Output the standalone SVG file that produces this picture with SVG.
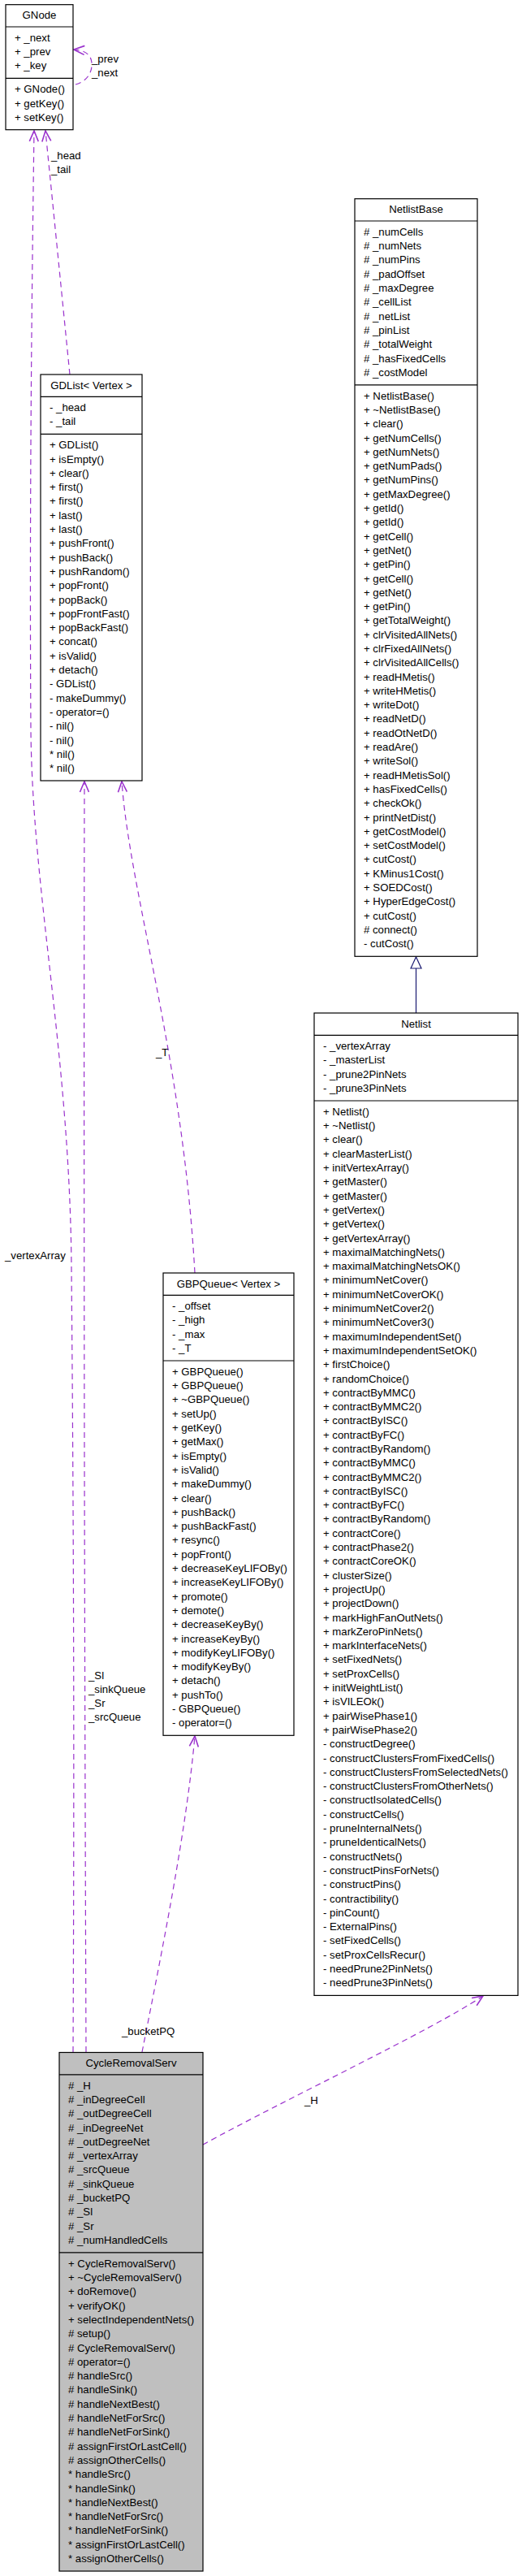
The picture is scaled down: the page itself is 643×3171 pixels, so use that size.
<svg xmlns="http://www.w3.org/2000/svg" width="643" height="3171" viewBox="0 0 643 3171">
<style>
.t{font-family:"Liberation Sans",Arial,sans-serif;font-size:13.2px;fill:#000}
.c{text-anchor:middle}
.b{fill:#fff;stroke:#000;stroke-width:1.2}
.g{fill:#bfbfbf;stroke:#000;stroke-width:1.2}
.d{stroke:#000;stroke-width:1.2}
.e{fill:none;stroke:#9a32cd;stroke-width:1.2;stroke-dasharray:7,5}
.i{fill:none;stroke:#191970;stroke-width:1.2}
</style>
<defs>
<marker id="a" markerWidth="15" markerHeight="13" refX="14" refY="6.5" orient="auto" markerUnits="userSpaceOnUse"><path d="M1,1 L14,6.5 L1,12" fill="none" stroke="#9a32cd" stroke-width="1.6"/></marker>
<marker id="h" markerWidth="16" markerHeight="16" refX="15" refY="7.5" orient="auto" markerUnits="userSpaceOnUse"><path d="M1,1 L15,7.5 L1,14 Z" fill="#fff" stroke="#191970" stroke-width="1.2"/></marker>
</defs>

<g id="edges">
<path class="e" d="M93,104 C108,100 114,88 113,77 C112,68 106,62 91,61" marker-end="url(#a)"/>
<text class="t" x="113" y="77">_prev</text>
<text class="t" x="113" y="94">_next</text>
<path class="e" d="M86,461 L56,161" marker-end="url(#a)"/>
<text class="t" x="63" y="196">_head</text>
<text class="t" x="63" y="213">_tail</text>
<path class="e" d="M90,2526 C92,2100 90,1800 88,1560 C86,1300 40,1100 38,900 C36,600 40,300 42,161" marker-end="url(#a)"/>
<text class="t" x="6" y="1550">_vertexArray</text>
<path class="e" d="M106,2526 C104,2000 103,1400 104,962" marker-end="url(#a)"/>
<text class="t" x="109" y="2067">_Sl</text>
<text class="t" x="109" y="2084">_sinkQueue</text>
<text class="t" x="109" y="2101">_Sr</text>
<text class="t" x="109" y="2118">_srcQueue</text>
<path class="e" d="M240,1567 C225,1300 160,1100 150,962" marker-end="url(#a)"/>
<text class="t" x="192" y="1300">_T</text>
<path class="e" d="M175,2526 C200,2400 230,2250 240,2137" marker-end="url(#a)"/>
<text class="t" x="150" y="2505">_bucketPQ</text>
<path class="e" d="M250,2640 C350,2585 530,2500 595,2457" marker-end="url(#a)"/>
<text class="t" x="375" y="2590">_H</text>
<path class="i" d="M512.5,1247 L512.5,1178" marker-end="url(#h)"/>
</g>

<g id="GNode">
<rect class="b" x="7" y="5.7" width="83" height="154"/>
<line class="d" x1="7" y1="33" x2="90" y2="33"/>
<line class="d" x1="7" y1="96.4" x2="90" y2="96.4"/>
<text class="t c" x="48.5" y="23.2">GNode</text>
<text class="t" x="18" y="50.8"><tspan x="18">+ _next</tspan><tspan x="18" dy="17.3">+ _prev</tspan><tspan x="18" dy="17.3">+ _key</tspan></text>
<text class="t" x="18" y="114.2"><tspan x="18">+ GNode()</tspan><tspan x="18" dy="17.3">+ getKey()</tspan><tspan x="18" dy="17.3">+ setKey()</tspan></text>
</g>

<g id="GDList">
<rect class="b" x="50" y="461" width="125" height="500"/>
<line class="d" x1="50" y1="488.3" x2="175" y2="488.3"/>
<line class="d" x1="50" y1="534.4" x2="175" y2="534.4"/>
<text class="t c" x="112.5" y="478.5">GDList&lt; Vertex &gt;</text>
<text class="t" x="61" y="506.1"><tspan x="61">- _head</tspan><tspan x="61" dy="17.3">- _tail</tspan></text>
<text class="t" x="61" y="552.2"><tspan x="61">+ GDList()</tspan><tspan x="61" dy="17.3">+ isEmpty()</tspan><tspan x="61" dy="17.3">+ clear()</tspan><tspan x="61" dy="17.3">+ first()</tspan><tspan x="61" dy="17.3">+ first()</tspan><tspan x="61" dy="17.3">+ last()</tspan><tspan x="61" dy="17.3">+ last()</tspan><tspan x="61" dy="17.3">+ pushFront()</tspan><tspan x="61" dy="17.3">+ pushBack()</tspan><tspan x="61" dy="17.3">+ pushRandom()</tspan><tspan x="61" dy="17.3">+ popFront()</tspan><tspan x="61" dy="17.3">+ popBack()</tspan><tspan x="61" dy="17.3">+ popFrontFast()</tspan><tspan x="61" dy="17.3">+ popBackFast()</tspan><tspan x="61" dy="17.3">+ concat()</tspan><tspan x="61" dy="17.3">+ isValid()</tspan><tspan x="61" dy="17.3">+ detach()</tspan><tspan x="61" dy="17.3">- GDList()</tspan><tspan x="61" dy="17.3">- makeDummy()</tspan><tspan x="61" dy="17.3">- operator=()</tspan><tspan x="61" dy="17.3">- nil()</tspan><tspan x="61" dy="17.3">- nil()</tspan><tspan x="61" dy="17.3">* nil()</tspan><tspan x="61" dy="17.3">* nil()</tspan></text>
</g>

<g id="NetlistBase">
<rect class="b" x="437" y="244.7" width="151" height="932.6"/>
<line class="d" x1="437" y1="272" x2="588" y2="272"/>
<line class="d" x1="437" y1="473.8" x2="588" y2="473.8"/>
<text class="t c" x="512.5" y="262.2">NetlistBase</text>
<text class="t" x="448" y="289.8"><tspan x="448"># _numCells</tspan><tspan x="448" dy="17.3"># _numNets</tspan><tspan x="448" dy="17.3"># _numPins</tspan><tspan x="448" dy="17.3"># _padOffset</tspan><tspan x="448" dy="17.3"># _maxDegree</tspan><tspan x="448" dy="17.3"># _cellList</tspan><tspan x="448" dy="17.3"># _netList</tspan><tspan x="448" dy="17.3"># _pinList</tspan><tspan x="448" dy="17.3"># _totalWeight</tspan><tspan x="448" dy="17.3"># _hasFixedCells</tspan><tspan x="448" dy="17.3"># _costModel</tspan></text>
<text class="t" x="448" y="491.6"><tspan x="448">+ NetlistBase()</tspan><tspan x="448" dy="17.3">+ ~NetlistBase()</tspan><tspan x="448" dy="17.3">+ clear()</tspan><tspan x="448" dy="17.3">+ getNumCells()</tspan><tspan x="448" dy="17.3">+ getNumNets()</tspan><tspan x="448" dy="17.3">+ getNumPads()</tspan><tspan x="448" dy="17.3">+ getNumPins()</tspan><tspan x="448" dy="17.3">+ getMaxDegree()</tspan><tspan x="448" dy="17.3">+ getId()</tspan><tspan x="448" dy="17.3">+ getId()</tspan><tspan x="448" dy="17.3">+ getCell()</tspan><tspan x="448" dy="17.3">+ getNet()</tspan><tspan x="448" dy="17.3">+ getPin()</tspan><tspan x="448" dy="17.3">+ getCell()</tspan><tspan x="448" dy="17.3">+ getNet()</tspan><tspan x="448" dy="17.3">+ getPin()</tspan><tspan x="448" dy="17.3">+ getTotalWeight()</tspan><tspan x="448" dy="17.3">+ clrVisitedAllNets()</tspan><tspan x="448" dy="17.3">+ clrFixedAllNets()</tspan><tspan x="448" dy="17.3">+ clrVisitedAllCells()</tspan><tspan x="448" dy="17.3">+ readHMetis()</tspan><tspan x="448" dy="17.3">+ writeHMetis()</tspan><tspan x="448" dy="17.3">+ writeDot()</tspan><tspan x="448" dy="17.3">+ readNetD()</tspan><tspan x="448" dy="17.3">+ readOtNetD()</tspan><tspan x="448" dy="17.3">+ readAre()</tspan><tspan x="448" dy="17.3">+ writeSol()</tspan><tspan x="448" dy="17.3">+ readHMetisSol()</tspan><tspan x="448" dy="17.3">+ hasFixedCells()</tspan><tspan x="448" dy="17.3">+ checkOk()</tspan><tspan x="448" dy="17.3">+ printNetDist()</tspan><tspan x="448" dy="17.3">+ getCostModel()</tspan><tspan x="448" dy="17.3">+ setCostModel()</tspan><tspan x="448" dy="17.3">+ cutCost()</tspan><tspan x="448" dy="17.3">+ KMinus1Cost()</tspan><tspan x="448" dy="17.3">+ SOEDCost()</tspan><tspan x="448" dy="17.3">+ HyperEdgeCost()</tspan><tspan x="448" dy="17.3">+ cutCost()</tspan><tspan x="448" dy="17.3"># connect()</tspan><tspan x="448" dy="17.3">- cutCost()</tspan></text>
</g>

<g id="Netlist">
<rect class="b" x="387" y="1247" width="251" height="1209.4"/>
<line class="d" x1="387" y1="1274.3" x2="638" y2="1274.3"/>
<line class="d" x1="387" y1="1355" x2="638" y2="1355"/>
<text class="t c" x="512.5" y="1264.5">Netlist</text>
<text class="t" x="398" y="1292.1"><tspan x="398">- _vertexArray</tspan><tspan x="398" dy="17.3">- _masterList</tspan><tspan x="398" dy="17.3">- _prune2PinNets</tspan><tspan x="398" dy="17.3">- _prune3PinNets</tspan></text>
<text class="t" x="398" y="1372.8"><tspan x="398">+ Netlist()</tspan><tspan x="398" dy="17.3">+ ~Netlist()</tspan><tspan x="398" dy="17.3">+ clear()</tspan><tspan x="398" dy="17.3">+ clearMasterList()</tspan><tspan x="398" dy="17.3">+ initVertexArray()</tspan><tspan x="398" dy="17.3">+ getMaster()</tspan><tspan x="398" dy="17.3">+ getMaster()</tspan><tspan x="398" dy="17.3">+ getVertex()</tspan><tspan x="398" dy="17.3">+ getVertex()</tspan><tspan x="398" dy="17.3">+ getVertexArray()</tspan><tspan x="398" dy="17.3">+ maximalMatchingNets()</tspan><tspan x="398" dy="17.3">+ maximalMatchingNetsOK()</tspan><tspan x="398" dy="17.3">+ minimumNetCover()</tspan><tspan x="398" dy="17.3">+ minimumNetCoverOK()</tspan><tspan x="398" dy="17.3">+ minimumNetCover2()</tspan><tspan x="398" dy="17.3">+ minimumNetCover3()</tspan><tspan x="398" dy="17.3">+ maximumIndependentSet()</tspan><tspan x="398" dy="17.3">+ maximumIndependentSetOK()</tspan><tspan x="398" dy="17.3">+ firstChoice()</tspan><tspan x="398" dy="17.3">+ randomChoice()</tspan><tspan x="398" dy="17.3">+ contractByMMC()</tspan><tspan x="398" dy="17.3">+ contractByMMC2()</tspan><tspan x="398" dy="17.3">+ contractByISC()</tspan><tspan x="398" dy="17.3">+ contractByFC()</tspan><tspan x="398" dy="17.3">+ contractByRandom()</tspan><tspan x="398" dy="17.3">+ contractByMMC()</tspan><tspan x="398" dy="17.3">+ contractByMMC2()</tspan><tspan x="398" dy="17.3">+ contractByISC()</tspan><tspan x="398" dy="17.3">+ contractByFC()</tspan><tspan x="398" dy="17.3">+ contractByRandom()</tspan><tspan x="398" dy="17.3">+ contractCore()</tspan><tspan x="398" dy="17.3">+ contractPhase2()</tspan><tspan x="398" dy="17.3">+ contractCoreOK()</tspan><tspan x="398" dy="17.3">+ clusterSize()</tspan><tspan x="398" dy="17.3">+ projectUp()</tspan><tspan x="398" dy="17.3">+ projectDown()</tspan><tspan x="398" dy="17.3">+ markHighFanOutNets()</tspan><tspan x="398" dy="17.3">+ markZeroPinNets()</tspan><tspan x="398" dy="17.3">+ markInterfaceNets()</tspan><tspan x="398" dy="17.3">+ setFixedNets()</tspan><tspan x="398" dy="17.3">+ setProxCells()</tspan><tspan x="398" dy="17.3">+ initWeightList()</tspan><tspan x="398" dy="17.3">+ isVILEOk()</tspan><tspan x="398" dy="17.3">+ pairWisePhase1()</tspan><tspan x="398" dy="17.3">+ pairWisePhase2()</tspan><tspan x="398" dy="17.3">- constructDegree()</tspan><tspan x="398" dy="17.3">- constructClustersFromFixedCells()</tspan><tspan x="398" dy="17.3">- constructClustersFromSelectedNets()</tspan><tspan x="398" dy="17.3">- constructClustersFromOtherNets()</tspan><tspan x="398" dy="17.3">- constructIsolatedCells()</tspan><tspan x="398" dy="17.3">- constructCells()</tspan><tspan x="398" dy="17.3">- pruneInternalNets()</tspan><tspan x="398" dy="17.3">- pruneIdenticalNets()</tspan><tspan x="398" dy="17.3">- constructNets()</tspan><tspan x="398" dy="17.3">- constructPinsForNets()</tspan><tspan x="398" dy="17.3">- constructPins()</tspan><tspan x="398" dy="17.3">- contractibility()</tspan><tspan x="398" dy="17.3">- pinCount()</tspan><tspan x="398" dy="17.3">- ExternalPins()</tspan><tspan x="398" dy="17.3">- setFixedCells()</tspan><tspan x="398" dy="17.3">- setProxCellsRecur()</tspan><tspan x="398" dy="17.3">- needPrune2PinNets()</tspan><tspan x="398" dy="17.3">- needPrune3PinNets()</tspan></text>
</g>

<g id="GBPQueue">
<rect class="b" x="201" y="1567" width="161" height="569.3"/>
<line class="d" x1="201" y1="1594.3" x2="362" y2="1594.3"/>
<line class="d" x1="201" y1="1675" x2="362" y2="1675"/>
<text class="t c" x="281.5" y="1584.5">GBPQueue&lt; Vertex &gt;</text>
<text class="t" x="212" y="1612.1"><tspan x="212">- _offset</tspan><tspan x="212" dy="17.3">- _high</tspan><tspan x="212" dy="17.3">- _max</tspan><tspan x="212" dy="17.3">- _T</tspan></text>
<text class="t" x="212" y="1692.8"><tspan x="212">+ GBPQueue()</tspan><tspan x="212" dy="17.3">+ GBPQueue()</tspan><tspan x="212" dy="17.3">+ ~GBPQueue()</tspan><tspan x="212" dy="17.3">+ setUp()</tspan><tspan x="212" dy="17.3">+ getKey()</tspan><tspan x="212" dy="17.3">+ getMax()</tspan><tspan x="212" dy="17.3">+ isEmpty()</tspan><tspan x="212" dy="17.3">+ isValid()</tspan><tspan x="212" dy="17.3">+ makeDummy()</tspan><tspan x="212" dy="17.3">+ clear()</tspan><tspan x="212" dy="17.3">+ pushBack()</tspan><tspan x="212" dy="17.3">+ pushBackFast()</tspan><tspan x="212" dy="17.3">+ resync()</tspan><tspan x="212" dy="17.3">+ popFront()</tspan><tspan x="212" dy="17.3">+ decreaseKeyLIFOBy()</tspan><tspan x="212" dy="17.3">+ increaseKeyLIFOBy()</tspan><tspan x="212" dy="17.3">+ promote()</tspan><tspan x="212" dy="17.3">+ demote()</tspan><tspan x="212" dy="17.3">+ decreaseKeyBy()</tspan><tspan x="212" dy="17.3">+ increaseKeyBy()</tspan><tspan x="212" dy="17.3">+ modifyKeyLIFOBy()</tspan><tspan x="212" dy="17.3">+ modifyKeyBy()</tspan><tspan x="212" dy="17.3">+ detach()</tspan><tspan x="212" dy="17.3">+ pushTo()</tspan><tspan x="212" dy="17.3">- GBPQueue()</tspan><tspan x="212" dy="17.3">- operator=()</tspan></text>
</g>

<g id="CycleRemovalServ">
<rect class="g" x="73" y="2526.5" width="177" height="638.5"/>
<line class="d" x1="73" y1="2553.8" x2="250" y2="2553.8"/>
<line class="d" x1="73" y1="2772.9" x2="250" y2="2772.9"/>
<text class="t c" x="161.5" y="2544">CycleRemovalServ</text>
<text class="t" x="84" y="2571.6"><tspan x="84"># _H</tspan><tspan x="84" dy="17.3"># _inDegreeCell</tspan><tspan x="84" dy="17.3"># _outDegreeCell</tspan><tspan x="84" dy="17.3"># _inDegreeNet</tspan><tspan x="84" dy="17.3"># _outDegreeNet</tspan><tspan x="84" dy="17.3"># _vertexArray</tspan><tspan x="84" dy="17.3"># _srcQueue</tspan><tspan x="84" dy="17.3"># _sinkQueue</tspan><tspan x="84" dy="17.3"># _bucketPQ</tspan><tspan x="84" dy="17.3"># _Sl</tspan><tspan x="84" dy="17.3"># _Sr</tspan><tspan x="84" dy="17.3"># _numHandledCells</tspan></text>
<text class="t" x="84" y="2790.7"><tspan x="84">+ CycleRemovalServ()</tspan><tspan x="84" dy="17.3">+ ~CycleRemovalServ()</tspan><tspan x="84" dy="17.3">+ doRemove()</tspan><tspan x="84" dy="17.3">+ verifyOK()</tspan><tspan x="84" dy="17.3">+ selectIndependentNets()</tspan><tspan x="84" dy="17.3"># setup()</tspan><tspan x="84" dy="17.3"># CycleRemovalServ()</tspan><tspan x="84" dy="17.3"># operator=()</tspan><tspan x="84" dy="17.3"># handleSrc()</tspan><tspan x="84" dy="17.3"># handleSink()</tspan><tspan x="84" dy="17.3"># handleNextBest()</tspan><tspan x="84" dy="17.3"># handleNetForSrc()</tspan><tspan x="84" dy="17.3"># handleNetForSink()</tspan><tspan x="84" dy="17.3"># assignFirstOrLastCell()</tspan><tspan x="84" dy="17.3"># assignOtherCells()</tspan><tspan x="84" dy="17.3">* handleSrc()</tspan><tspan x="84" dy="17.3">* handleSink()</tspan><tspan x="84" dy="17.3">* handleNextBest()</tspan><tspan x="84" dy="17.3">* handleNetForSrc()</tspan><tspan x="84" dy="17.3">* handleNetForSink()</tspan><tspan x="84" dy="17.3">* assignFirstOrLastCell()</tspan><tspan x="84" dy="17.3">* assignOtherCells()</tspan></text>
</g>
</svg>
